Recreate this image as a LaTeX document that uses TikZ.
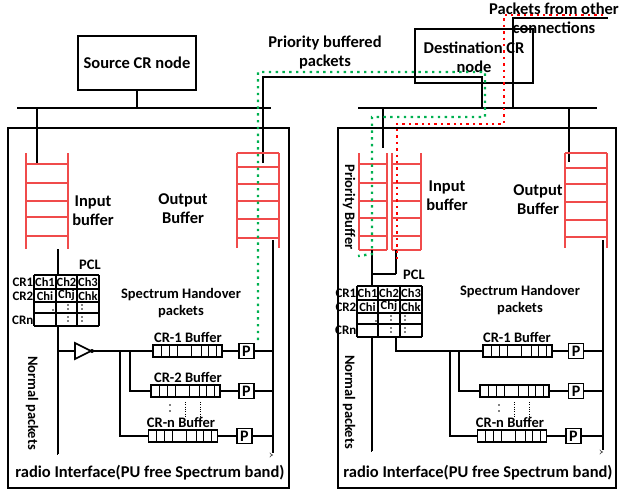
\documentclass[tikz,border=0pt]{standalone}
\usepackage{fontspec}
\setmainfont{Carlito}
\usetikzlibrary{arrows.meta}
\definecolor{lred}{RGB}{240,75,75}
\definecolor{dgreen}{RGB}{0,176,80}
\definecolor{dred}{RGB}{255,0,0}
\newcommand{\drawladder}[5]{%
  \draw[lad] (#1,#3)--(#1,#4) (#2,#3)--(#2,#4);
  \foreach \yy in {#5} {\draw[lad] (#1,\yy)--(#2,\yy);}%
}
\newcommand{\bufcells}[1]{%
  \foreach \dd in {9,17,25,39,49,56,64} {\draw[line width=1.2pt] ([xshift=\dd pt]#1.north west)--([xshift=\dd pt]#1.south west);}%
}
\begin{document}
\begin{tikzpicture}[x=1pt,y=-1pt,
  blk/.style={line width=1.7pt},
  lad/.style={draw=lred,line width=1.5pt},
  gdot/.style={draw=dgreen,line width=2.4pt,dash pattern=on 2.4pt off 4.4pt},
  rdot/.style={draw=dred,line width=2.4pt,dash pattern=on 2.4pt off 4pt},
  big/.style={font=\bfseries\fontsize{16.5}{19}\selectfont,align=center,inner sep=0pt},
  mid/.style={font=\bfseries\fontsize{14.5}{17.5}\selectfont,align=center,inner sep=0pt},
  rowl/.style={font=\bfseries\fontsize{13}{13}\selectfont,inner sep=0pt,anchor=east},
  cell/.style={font=\bfseries\fontsize{12.5}{12.5}\selectfont,inner sep=0pt},
  frame/.style={draw,line width=1.7pt,inner sep=0pt},
  buf/.style={draw,line width=1.6pt,fill=white,minimum width=69pt,minimum height=12pt,inner sep=0pt},
  pbox/.style={draw,line width=1.6pt,fill=white,minimum size=15pt,inner sep=0pt,font=\bfseries\fontsize{16}{16}\selectfont},
  dbl/.style={draw=black!75,line width=0.6pt,double=white,double distance=1.1pt,-{Implies}},
]
\useasboundingbox (0,0) rectangle (621,490);

% ---------------- top level boxes and buses
\node[frame,minimum width=118pt,minimum height=54pt] (src) at (137,63) {};
\node[big] (srct) at (137,63) {Source CR node};
\node[frame,minimum width=118pt,minimum height=54pt] (dst) at (474,56) {};
\draw[line width=1.7pt] (8,128) rectangle (289,488);
\draw[line width=1.7pt] (338,128) rectangle (616,488);
\coordinate (busLa) at (17,108);
\coordinate (busLb) at (271,108);
\coordinate (busRa) at (358,108);
\coordinate (busRb) at (597,108);
\draw[blk] (busLa) -- (busLb);
\draw[blk] (busRa) -- (busRb);
\draw[blk] (src.south) -- (src.south |- busLa);
\draw[blk] (37,108) -- (37,163);
\draw[blk] (263,163) -- (263,77) -- (482,77) -- (482,108);
\draw[blk] (513,108) -- (513,18) -- (608,18);
\draw[blk] (383,108) -- (383,148);
\draw[blk] (569,108) -- (569,162);

% ---------------- ladders
\drawladder{26}{68}{153}{249}{164,183,201,217,236}
\drawladder{237}{279}{153}{248}{153,167,184,201,219,238}
\drawladder{359}{387}{153}{250}{164,183,201,218,236,250}
\drawladder{392}{421}{153}{250}{164,183,201,218,236,250}
\drawladder{565}{607}{153}{248}{153,168,184,202,220,237}

% ---------------- left panel internals
\draw[blk] (58,249) -- (58,275);
\foreach \xx in {34,56,77,99} {\draw[line width=1.6pt] (\xx,275)--(\xx,326);}
\foreach \yy in {275,289,302,326} {\draw[line width=1.6pt] (34,\yy)--(99,\yy);}
\draw[line width=2.4pt] (34,313)--(99,313);
\node[cell] at (45,282) {Ch1};
\node[cell] at (66.5,282) {Ch2};
\node[cell] at (88,282) {Ch3};
\node[cell] at (45,296) {Chi};
\node[cell] at (66.5,295) {Chj};
\node[cell] at (88,296) {Chk};
\node[rowl] at (33.5,282) {CR1};
\node[rowl] at (33.5,296) {CR2};
\node[rowl] at (33.5,320) {CRn};
\fill (53,310) circle (0.8);
\foreach \xx in {68,82} {\foreach \yy in {305,309,317,321} {\fill (\xx,\yy) circle (0.8);}}
\node[mid] at (90,265) {PCL};

\coordinate (lrv) at (273,240);
\draw[blk] (lrv) -- (273,453);
\draw[blk] (58,326) -- (58,455);
\draw[dbl] (58,455) -- (273,455);
\draw[blk] (58,351) -- (75,351);
\draw[line width=1.6pt,fill=white] (75,343) -- (91,351) -- (75,359) -- cycle;
\fill (92,351) circle (2);
\node[buf] (lb1) at (187.5,351) {};
\node[buf] (lb2) at (185.5,391) {};
\node[buf] (lbn) at (183,436) {};
\bufcells{lb1}\bufcells{lb2}\bufcells{lbn}
\draw[blk] (92,351) -- (lb1.west);
\draw[blk] (130,351) -- (130,391) -- (lb2.west);
\draw[blk] (120,351) -- (120,436) -- (lbn.west);
\node[pbox] (lp1) at (246.5,351) {P};
\node[pbox] (lp2) at (246.5,391) {P};
\node[pbox] (lpn) at (244.5,436) {P};
\draw[blk] (lb1.east) -- (lp1.west);
\draw[blk] (lb2.east) -- (lp2.west);
\draw[blk] (lbn.east) -- (lpn.west);
\draw[blk] (lp1.east) -- (lp1.east -| lrv);
\draw[blk] (lp2.east) -- (lp2.east -| lrv);
\draw[blk] (lpn.east) -- (lpn.east -| lrv);
\foreach \xx in {185,200} {\draw[line width=0.9pt,dash pattern=on 1pt off 1.3pt] (\xx,402)--(\xx,416);}
\fill (170,405) circle (0.8); \fill (170,411) circle (0.8);

\node[mid] at (188,337) {CR-1 Buffer};
\node[mid] at (188,377) {CR-2 Buffer};
\node[mid] at (181,422) {CR-n Buffer};
\node[big] at (93,211) {Input\\buffer};
\node[big] at (183,209) {Output\\Buffer};
\node[mid] at (181,303) {Spectrum Handover\\packets};
\node[mid,rotate=-90] at (32,403) {Normal packets};
\node[big] at (150,473) {radio Interface(PU free Spectrum band)};

% ---------------- right panel internals
\draw[blk] (372,250) -- (372,286);
\draw[blk] (396,250) -- (396,274);
\draw[blk] (372,274) -- (396,274);
\foreach \xx in {357,378,400,422} {\draw[line width=1.6pt] (\xx,286)--(\xx,337);}
\foreach \yy in {286,300,313,337} {\draw[line width=1.6pt] (357,\yy)--(422,\yy);}
\draw[line width=2.2pt] (357,324)--(422,324);
\node[cell] at (367.5,293) {Ch1};
\node[cell] at (389,293) {Ch2};
\node[cell] at (411,293) {Ch3};
\node[cell] at (367.5,307) {Chi};
\node[cell] at (389,306) {Chj};
\node[cell] at (411,307) {Chk};
\node[rowl] at (356.5,293) {CR1};
\node[rowl] at (356.5,307) {CR2};
\node[rowl] at (356.5,330) {CRn};
\fill (376,321) circle (0.8);
\foreach \xx in {391,405} {\foreach \yy in {316,320,328,332} {\fill (\xx,\yy) circle (0.8);}}
\node[mid] at (414,275) {PCL};

\coordinate (rrv) at (603,240);
\draw[blk] (rrv) -- (603,450);
\draw[blk] (372,337) -- (372,452);
\draw[dbl] (372,452) -- (603,452);
\node[buf] (rb1) at (517.5,351) {};
\node[buf] (rb2) at (514.5,391) {};
\node[buf] (rbn) at (512,436) {};
\bufcells{rb1}\bufcells{rb2}\bufcells{rbn}
\draw[blk] (396,337) -- (396,351) -- (rb1.west);
\draw[blk] (459,351) -- (459,391) -- (rb2.west);
\draw[blk] (450,351) -- (450,436) -- (rbn.west);
\node[pbox] (rp1) at (576,351) {P};
\node[pbox] (rp2) at (576,391) {P};
\node[pbox] (rpn) at (573.5,436) {P};
\draw[blk] (rb1.east) -- (rp1.west);
\draw[blk] (rb2.east) -- (rp2.west);
\draw[blk] (rbn.east) -- (rpn.west);
\draw[blk] (rp1.east) -- (rp1.east -| rrv);
\draw[blk] (rp2.east) -- (rp2.east -| rrv);
\draw[blk] (rpn.east) -- (rpn.east -| rrv);
\foreach \xx in {514,529} {\draw[line width=0.9pt,dash pattern=on 1pt off 1.3pt] (\xx,402)--(\xx,416);}
\fill (499,405) circle (0.8); \fill (499,411) circle (0.8);

\node[mid] at (517,337) {CR-1 Buffer};
\node[mid] at (510,422) {CR-n Buffer};
\node[big] at (447,196) {Input\\buffer};
\node[big] at (538,200) {Output\\Buffer};
\node[mid] at (520,300) {Spectrum Handover\\packets};
\node[mid,rotate=-90] at (349,402) {Normal packets};
\node[mid,rotate=-90] at (349,207) {Priority Buffer};
\node[big] at (478,473) {radio Interface(PU free Spectrum band)};

% ---------------- top texts
\node[big] at (325,52) {Priority buffered\\packets};
\node[big] (dstt) at (474,57) {Destination CR\\node};
\node[big] at (554,18) {Packets from other\\connections};

% ---------------- dotted paths
\draw[gdot] (258,340) -- (258,72) -- (485,72) -- (485,117) -- (372,117) -- (372,254) -- (358,256);
\draw[rdot] (603,15) -- (504,15) -- (504,124) -- (397,124) -- (397,262);
\end{tikzpicture}
\end{document}
